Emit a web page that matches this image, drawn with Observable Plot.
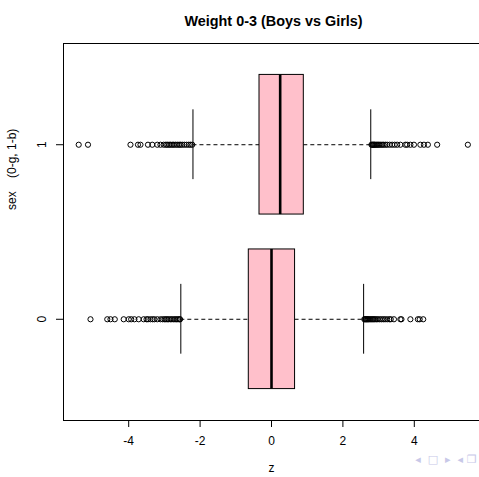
<!DOCTYPE html>
<html>
<head>
<meta charset="utf-8">
<script src="https://cdn.jsdelivr.net/npm/d3@7"></script>
<script src="https://cdn.jsdelivr.net/npm/@observablehq/plot@0.6"></script>
<style>
  html, body { margin: 0; padding: 0; background: #fff; }
  svg { display: block; }
</style>
</head>
<body>
<div id="chart"></div>
<script>
// ---- data ----
const groups = ["0", "1"];
const q1 = [-0.636, -0.336];
const median = [0.0, 0.243];
const q3 = [0.66, 0.905];
const whiskerLo = [-2.54, -2.20];
const whiskerHi = [2.58, 2.78];

const outliers0 = [
  -5.07, -4.60, -4.51, -4.39, -4.14, -4.00, -3.93, -3.84, -3.72, -3.58, -3.50, -3.46,
  -3.39, -3.33, -3.28, -3.20, -3.11, -3.05, -3.00, -2.96, -2.92, -2.88, -2.83, -2.79,
  -2.74, -2.70, -2.66, -2.62, -2.58, -2.56,
  2.60, 2.62, 2.64, 2.66, 2.68, 2.70, 2.72, 2.75, 2.78, 2.81, 2.84, 2.87, 2.90, 2.94,
  2.98, 3.03, 3.08, 3.13, 3.18, 3.24, 3.30, 3.34, 3.43, 3.61, 3.64, 3.89, 4.10, 4.15, 4.25
];
const outliers1 = [
  -5.40, -5.14, -3.95, -3.74, -3.67, -3.46, -3.34, -3.20, -3.11, -3.02, -2.96, -2.92,
  -2.87, -2.83, -2.78, -2.74, -2.69, -2.64, -2.59, -2.55, -2.50, -2.44, -2.38, -2.32,
  -2.27, -2.22,
  2.80, 2.82, 2.84, 2.86, 2.88, 2.90, 2.93, 2.96, 2.99, 3.02, 3.06, 3.10, 3.14, 3.19,
  3.24, 3.31, 3.38, 3.45, 3.52, 3.61, 3.75, 3.80, 3.89, 3.99, 4.17, 4.27, 4.38, 4.64, 5.50
];
const xTicks = [-4, -2, 0, 2, 4];
const title = "Weight 0-3 (Boys vs Girls)";
const xLabel = "z";
const yLabel = "sex\u00a0\u00a0\u00a0\u00a0(0-g, 1-b)";
const navGlyphs = "\u25C2\u00a0\u00a0\u25A1\u00a0\u00a0\u25B8\u00a0\u00a0\u25C2\u00a0\u2750";

// ---- derived tables ----
const boxes = groups.map((g, i) => ({
  g, pos: i + 1, q1: q1[i], med: median[i], q3: q3[i], lo: whiskerLo[i], hi: whiskerHi[i]
}));
const outs = [
  ...outliers0.map(v => ({ x: v, pos: 1 })),
  ...outliers1.map(v => ({ x: v, pos: 2 }))
];

const xDomain = [-5.826, 5.826];
const yDomain = [0.42, 2.58];
const font = "'Liberation Sans', Arial, Helvetica, sans-serif";

const chart = Plot.plot({
  width: 479,
  height: 477,
  marginLeft: 63,
  marginRight: 0,
  marginTop: 43,
  marginBottom: 57,
  style: { fontFamily: font, fontSize: "12px", color: "black", background: "white" },
  x: { domain: xDomain },
  y: { domain: yDomain },
  marks: [
    // frame (left, top, bottom; right edge is off-canvas)
    Plot.ruleX([xDomain[0]], { y1: yDomain[0], y2: yDomain[1], stroke: "black" }),
    Plot.ruleY(yDomain, { x1: xDomain[0], x2: xDomain[1], stroke: "black" }),
    // dashed whiskers
    Plot.ruleY(boxes, { y: "pos", x1: "lo", x2: "q1", stroke: "black", strokeDasharray: "4,3" }),
    Plot.ruleY(boxes, { y: "pos", x1: "q3", x2: "hi", stroke: "black", strokeDasharray: "4,3" }),
    // staples
    Plot.ruleX(boxes, { x: "lo", y1: d => d.pos - 0.2, y2: d => d.pos + 0.2, stroke: "black" }),
    Plot.ruleX(boxes, { x: "hi", y1: d => d.pos - 0.2, y2: d => d.pos + 0.2, stroke: "black" }),
    // boxes
    Plot.rect(boxes, { x1: "q1", x2: "q3", y1: d => d.pos - 0.4, y2: d => d.pos + 0.4, fill: "pink", stroke: "black", strokeWidth: 1 }),
    Plot.ruleX(boxes, { x: "med", y1: d => d.pos - 0.4, y2: d => d.pos + 0.4, stroke: "black", strokeWidth: 2.6 }),
    // outliers
    Plot.dot(outs, { x: "x", y: "pos", r: 2.6, stroke: "black", fill: "none", strokeWidth: 1 }),
    // axes
    Plot.axisX({ ticks: xTicks, tickFormat: d => String(d), tickSize: 7, tickPadding: 9, label: null, fontSize: 12 }),
    Plot.axisY({ ticks: [1, 2], tickFormat: d => String(d - 1), tickSize: 7, tickPadding: 11, tickRotate: -90, label: null, fontSize: 12 }),
    // titles
    Plot.text([title], { frameAnchor: "top", dx: 2, dy: -28, fontWeight: "bold", fontSize: 14.4, text: d => d }),
    Plot.text([xLabel], { frameAnchor: "bottom", dy: 51, fontSize: 12, text: d => d }),
    Plot.text([yLabel], { frameAnchor: "left", dx: -51, dy: -22, rotate: -90, fontSize: 12, text: d => d }),
    // beamer navigation glyphs
    Plot.text([navGlyphs], { frameAnchor: "bottom-right", dx: -3, dy: 42, textAnchor: "end", fill: "#c8c8e8", fontSize: 11, fontFamily: "DejaVu Sans", text: d => d })
  ]
});

document.getElementById("chart").appendChild(chart);
</script>
</body>
</html>
